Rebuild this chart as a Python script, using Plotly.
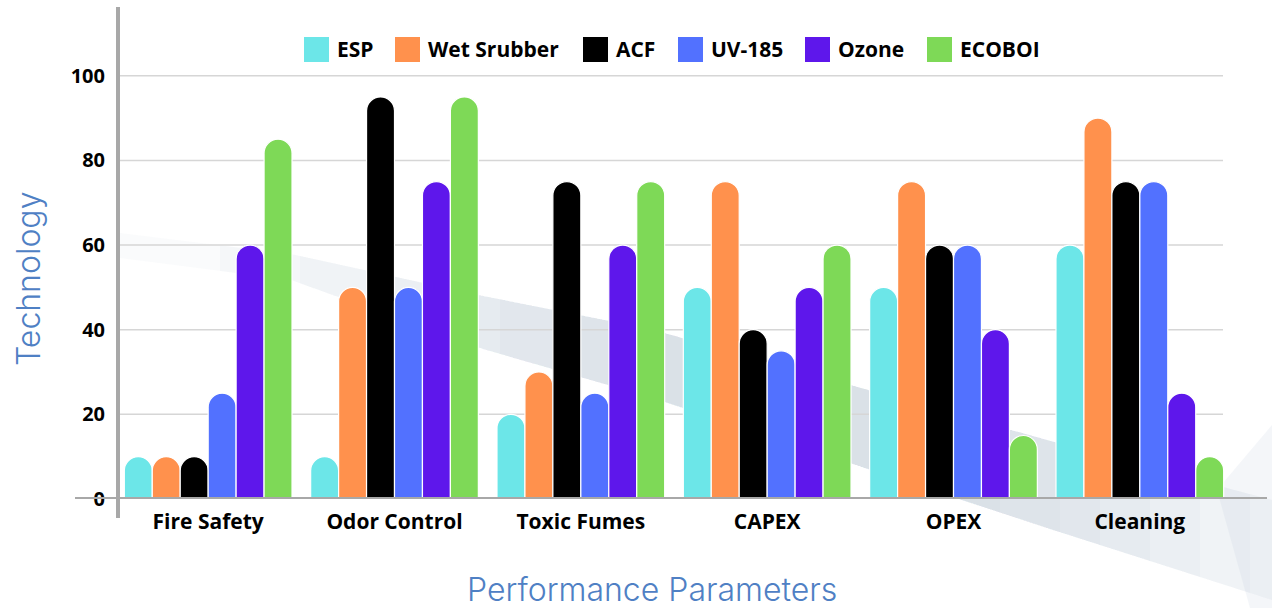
import plotly.graph_objects as go

categories = ["Fire Safety", "Odor Control", "Toxic Fumes", "CAPEX", "OPEX", "Cleaning"]
series_names = ["ESP", "Wet Srubber", "ACF", "UV-185", "Ozone", "ECOBOI"]
esp = [10, 10, 20, 50, 50, 60]
wet_srubber = [10, 50, 30, 75, 75, 90]
acf = [10, 95, 75, 40, 60, 75]
uv_185 = [25, 50, 25, 35, 60, 75]
ozone = [60, 75, 60, 50, 40, 25]
ecoboi = [85, 95, 75, 60, 15, 10]
y_ticks = [0, 20, 40, 60, 80, 100]

series_values = [esp, wet_srubber, acf, uv_185, ozone, ecoboi]
colors = ["#6ce6e8", "#ff914d", "#000000", "#5271ff", "#5e17eb", "#7ed957"]

W, H = 1272, 608
PX0, PX1, PY_BOT, PY_TOP = 115, 1233, 499, 8

# legend layout (pixel positions of the swatches)
legend_swatch_x = [304, 395, 583, 678, 805, 927]
LEGEND_SW, LEGEND_Y = 25, 37


def fx(px):
    return (px - PX0) / (PX1 - PX0)


def fy(py):
    return (PY_BOT - py) / (PY_BOT - PY_TOP)


def poly(points):
    return "M " + " L ".join(f"{fx(x):.4f},{fy(y):.4f}" for x, y in points) + " Z"


fig = go.Figure()
for name, vals, col in zip(series_names, series_values, colors):
    fig.add_trace(go.Bar(
        x=categories, y=vals, name=name, showlegend=False,
        marker=dict(color=col, cornerradius="50%", line=dict(color="white", width=1.2)),
    ))

shapes = []
annotations = []

# decorative diagonal band in the background, built from stacked faint layers
band_x = [120, 291, 483, 650, 1047, 1272]
band_top = [233, 254, 296, 329, 440, 500]
band_bot = [258, 280, 349, 397, 528, 600]


def band_edge(arr, x):
    for i in range(len(band_x) - 1):
        if band_x[i] <= x <= band_x[i + 1]:
            t = (x - band_x[i]) / (band_x[i + 1] - band_x[i])
            return arr[i] + (arr[i + 1] - arr[i]) * t
    return arr[-1]


def band_piece(xa, xb):
    xs = [xa] + [x for x in band_x if xa < x < xb] + [xb]
    top = [(x, band_edge(band_top, x)) for x in xs]
    bot = [(x, band_edge(band_bot, x)) for x in reversed(xs)]
    return poly(top + bot)


# each layer adds a little opacity over a narrower span -> smooth, seamless gradient
band_layers = [(120, 1272), (220, 1272), (300, 1250), (380, 1200),
               (440, 1150), (500, 1100), (560, 1060), (620, 1000)]
for xa, xb in band_layers:
    shapes.append(dict(type="path", xref="paper", yref="paper", layer="below",
                       path=band_piece(xa, xb), fillcolor="rgba(150,165,195,0.045)",
                       line=dict(width=0)))
shapes.append(dict(type="path", xref="paper", yref="paper", layer="below",
                   path=poly([(1217, 490), (1272, 425), (1272, 608), (1250, 608)]),
                   fillcolor="rgba(170,182,210,0.13)", line=dict(width=0)))

# gridlines
for t in y_ticks[1:]:
    shapes.append(dict(type="line", xref="paper", yref="y", layer="below",
                       x0=fx(118), x1=fx(1223), y0=t, y1=t,
                       line=dict(color="#d6d6d6", width=1.5)))
# axis lines (cross style)
shapes.append(dict(type="line", xref="paper", yref="y", layer="above",
                   x0=fx(75), x1=fx(1267), y0=0, y1=0,
                   line=dict(color="#a8a8a8", width=4)))
shapes.append(dict(type="line", xref="paper", yref="paper", layer="above",
                   x0=fx(118), x1=fx(118), y0=fy(518), y1=fy(7),
                   line=dict(color="#a8a8a8", width=4)))

# custom legend with large square swatches
legend_font = dict(family="Open Sans", size=21, color="#000000", weight="bold")
for name, col, sx in zip(series_names, colors, legend_swatch_x):
    shapes.append(dict(type="rect", xref="paper", yref="paper", layer="above",
                       x0=fx(sx), x1=fx(sx + LEGEND_SW), y0=fy(LEGEND_Y + LEGEND_SW), y1=fy(LEGEND_Y),
                       fillcolor=col, line=dict(width=0)))
    annotations.append(dict(text=name, xref="paper", yref="paper",
                            x=fx(sx + 31), y=fy(LEGEND_Y + LEGEND_SW / 2), xanchor="left",
                            yanchor="middle", showarrow=False, font=legend_font))

title_font = dict(family="Inter", size=32, color="#4f80c4", weight=300)
annotations += [
    dict(text="Performance Parameters", xref="paper", yref="paper",
         x=fx(652), y=fy(589), xanchor="center", yanchor="middle", showarrow=False,
         font=title_font),
    dict(text="Technology", xref="paper", yref="paper",
         x=fx(28), y=fy(279), xanchor="center", yanchor="middle", showarrow=False,
         textangle=-90, font=title_font),
]

ytick_font = dict(family="Open Sans", size=20, color="#000000", weight="bold")
xtick_font = dict(family="Open Sans", size=21, color="#000000", weight="bold")

fig.update_layout(
    width=W, height=H,
    margin=dict(l=PX0, r=W - PX1, t=PY_TOP, b=H - PY_BOT, pad=0),
    paper_bgcolor="#ffffff", plot_bgcolor="rgba(0,0,0,0)",
    barmode="group", bargap=0.1, bargroupgap=0.0,
    showlegend=False,
    shapes=shapes,
    annotations=annotations,
    xaxis=dict(showgrid=False, showline=False, zeroline=False, ticks="",
               tickfont=xtick_font, ticklabelstandoff=8, fixedrange=True),
    yaxis=dict(range=[0, 116], tickvals=y_ticks, showgrid=False, showline=False,
               zeroline=False, ticks="", tickfont=ytick_font, ticklabelstandoff=9,
               fixedrange=True),
)

fig.write_html("out.html", config={"displayModeBar": False},
               post_script="document.body.style.margin='0';")
